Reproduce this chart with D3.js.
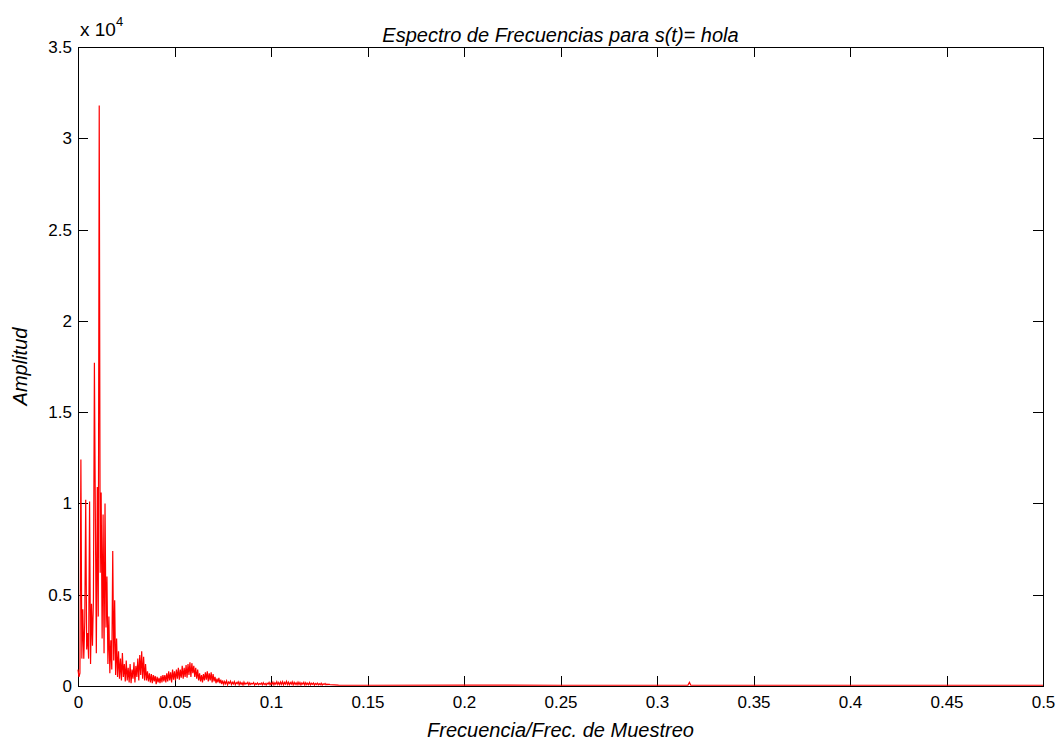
<!DOCTYPE html>
<html>
<head>
<meta charset="utf-8">
<script src="https://cdn.jsdelivr.net/npm/d3@7"></script>
<style>
  body { margin: 0; background: #fff; }
  svg { display: block; font-family: "Liberation Sans", Arial, sans-serif; }
</style>
</head>
<body>
<div id="chart"></div>
<script>
// spectrum amplitude, one value every 0.0005 from 0 to 0.13
const freqStep = 0.0005;
const ampLow = [
  900, 500, 700, 12400, 1500, 4200, 1500, 3500, 10200, 2000,
  2900, 1500, 10100, 1200, 4500, 2200, 4800, 17700, 9200, 1800,
  10900, 3800, 31800, 6200, 10600, 2600, 9400, 1800, 10000, 3200,
  6000, 1200, 3800, 700, 2500, 900, 7400, 1400, 4700, 600,
  2600, 500, 1900, 400, 1500, 300, 1800, 500, 1200, 250,
  1400, 300, 1000, 200, 1200, 150, 900, 400, 1300, 200,
  1100, 500, 1500, 300, 1700, 600, 1900, 400, 1600, 300,
  1200, 300, 800, 250, 700, 200, 650, 150, 600, 250,
  550, 100, 500, 200, 450, 150, 550, 200, 600, 250,
  600, 200, 700, 250, 800, 300, 750, 200, 900, 350,
  800, 300, 900, 400, 1000, 350, 900, 450, 1100, 400,
  1000, 500, 1150, 450, 1200, 600, 1300, 500, 1250, 700,
  1100, 500, 1000, 400, 900, 300, 700, 250, 600, 200,
  650, 300, 750, 350, 800, 250, 700, 300, 750, 200,
  650, 250, 500, 150, 400, 200, 450, 150, 350, 100,
  300, 90, 250, 120, 280, 60, 220, 150, 260, 80,
  200, 110, 240, 70, 190, 130, 230, 60, 210, 100,
  180, 50, 220, 90, 160, 120, 200, 60, 170, 80,
  150, 110, 190, 50, 140, 90, 170, 70, 130, 100,
  160, 60, 180, 80, 140, 50, 150, 110, 200, 70,
  170, 90, 210, 60, 180, 100, 230, 80, 190, 70,
  220, 90, 240, 60, 200, 110, 250, 80, 210, 70,
  190, 100, 230, 60, 200, 90, 180, 70, 210, 80,
  190, 60, 170, 100, 200, 50, 180, 80, 160, 70,
  190, 60, 150, 90, 170, 50, 140, 80, 160, 60,
  130, 70, 150, 50, 120, 80, 140, 60, 110, 70, 100
];
// high-frequency tail [frequency, amplitude]
const tailPoints = [
  [0.1305, 80], [0.135, 45], [0.15, 40], [0.2, 45], [0.25, 40], [0.3, 40],
  [0.316, 45], [0.3168, 200], [0.3175, 45], [0.35, 40], [0.4, 40], [0.45, 40], [0.5, 40]
];

const xTicks = [0, 0.05, 0.1, 0.15, 0.2, 0.25, 0.3, 0.35, 0.4, 0.45, 0.5];
const xTickLabels = ["0", "0.05", "0.1", "0.15", "0.2", "0.25", "0.3", "0.35", "0.4", "0.45", "0.5"];
const yTicks = [0, 5000, 10000, 15000, 20000, 25000, 30000, 35000];
const yTickLabels = ["0", "0.5", "1", "1.5", "2", "2.5", "3", "3.5"];

const titleText = "Espectro de Frecuencias para s(t)= hola";
const xLabelText = "Frecuencia/Frec. de Muestreo";
const yLabelText = "Amplitud";

const width = 1063, height = 742;
const margin = { left: 78, right: 20, top: 47, bottom: 56 };
const plotW = width - margin.left - margin.right;
const plotH = height - margin.top - margin.bottom;

const svg = d3.select("#chart").append("svg")
  .attr("width", width)
  .attr("height", height);

const x = d3.scaleLinear().domain([0, 0.5]).range([margin.left, margin.left + plotW]);
const y = d3.scaleLinear().domain([0, 35000]).range([margin.top + plotH, margin.top]);

const series = ampLow.map((a, i) => [i * freqStep, a]).concat(tailPoints);

// =========================
// AXES (box with inward ticks)
// =========================
const tickLen = 10;
const fmtX = (d, i) => xTickLabels[i];
const fmtY = (d, i) => yTickLabels[i];

svg.append("rect")
  .attr("x", margin.left)
  .attr("y", margin.top)
  .attr("width", plotW)
  .attr("height", plotH)
  .attr("fill", "none")
  .attr("stroke", "#000")
  .attr("stroke-width", 1)
  .attr("shape-rendering", "crispEdges");

const axBottom = svg.append("g")
  .attr("transform", `translate(0,${margin.top + plotH})`)
  .call(d3.axisBottom(x).tickValues(xTicks).tickFormat(fmtX).tickSizeInner(-tickLen).tickSizeOuter(0).tickPadding(10));
const axTop = svg.append("g")
  .attr("transform", `translate(0,${margin.top})`)
  .call(d3.axisTop(x).tickValues(xTicks).tickFormat("").tickSizeInner(-tickLen).tickSizeOuter(0));
const axLeft = svg.append("g")
  .attr("transform", `translate(${margin.left},0)`)
  .call(d3.axisLeft(y).tickValues(yTicks).tickFormat(fmtY).tickSizeInner(-tickLen).tickSizeOuter(0).tickPadding(6));
const axRight = svg.append("g")
  .attr("transform", `translate(${margin.left + plotW},0)`)
  .call(d3.axisRight(y).tickValues(yTicks).tickFormat("").tickSizeInner(-tickLen).tickSizeOuter(0));

[axBottom, axTop, axLeft, axRight].forEach(g => {
  g.select(".domain").remove();
  g.selectAll("line").attr("stroke", "#000").attr("shape-rendering", "crispEdges");
  g.selectAll("text").attr("fill", "#000").style("font-size", "17px").style("font-family", "Liberation Sans, Arial, sans-serif");
});

// =========================
// LINE
// =========================
const line = d3.line()
  .x(d => x(d[0]))
  .y(d => y(d[1]));

svg.append("path")
  .datum(series)
  .attr("fill", "none")
  .attr("stroke", "#ff0000")
  .attr("stroke-width", 1.2)
  .attr("d", line);

// =========================
// TEXTS
// =========================
const expLabel = svg.append("text")
  .attr("x", margin.left + 2)
  .attr("y", 36)
  .style("font-size", "19px");
expLabel.append("tspan").text("x 10");
expLabel.append("tspan").attr("dy", -10).style("font-size", "13px").text("4");

svg.append("text")
  .attr("x", margin.left + plotW / 2)
  .attr("y", 42)
  .attr("text-anchor", "middle")
  .style("font-size", "20px")
  .style("font-style", "italic")
  .text(titleText);

svg.append("text")
  .attr("x", margin.left + plotW / 2)
  .attr("y", 737)
  .attr("text-anchor", "middle")
  .style("font-size", "20px")
  .style("font-style", "italic")
  .text(xLabelText);

svg.append("text")
  .attr("transform", `translate(27,${margin.top + plotH / 2}) rotate(-90)`)
  .attr("text-anchor", "middle")
  .style("font-size", "20px")
  .style("font-style", "italic")
  .text(yLabelText);
</script>
</body>
</html>
